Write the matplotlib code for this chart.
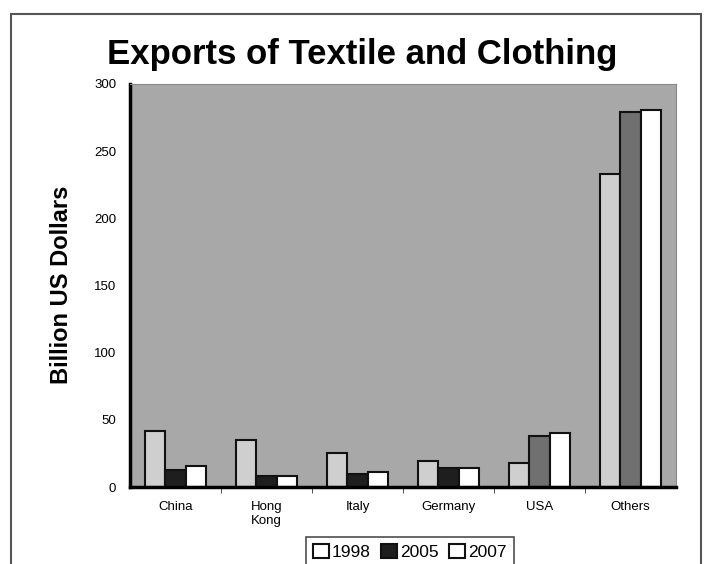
import numpy as np
import matplotlib
matplotlib.use('Agg')
from matplotlib import pyplot as plt
from matplotlib.patches import Rectangle

categories = ['China', 'Hong\nKong', 'Italy', 'Germany', 'USA', 'Others']
years = ['1998', '2005', '2007']
exports_1998 = [42, 35, 25, 19, 18, 233]
exports_2005 = [13, 8, 10, 14, 38, 279]
exports_2007 = [16, 8, 11, 14, 40, 281]

plt.rcParams['font.family'] = ['Liberation Sans', 'DejaVu Sans']

fig = plt.figure(dpi=100, figsize=(7.06, 5.64))
ax = fig.add_axes([130 / 706, 1 - 487 / 564, 546 / 706, 403 / 564])
ax.set_facecolor('#a8a8a8')

# outer chart border
fig.patches.append(Rectangle((11 / 706, -0.05), 690 / 706, 1.05 - 14 / 564,
                             transform=fig.transFigure, fill=False,
                             edgecolor='#555555', linewidth=1.5))

x = np.arange(len(categories))
w = 0.22
col_2005 = ['#1e1e1e', '#1e1e1e', '#1e1e1e', '#1e1e1e', '#707070', '#707070']
ax.bar(x - w, exports_1998, w, color='#cfcfcf', edgecolor='#111111', linewidth=1.5, label=years[0])
ax.bar(x, exports_2005, w, color=col_2005, edgecolor='#111111', linewidth=1.5, label=years[1])
ax.bar(x + w, exports_2007, w, color='white', edgecolor='#111111', linewidth=1.5, label=years[2])

ax.set_xlim(-0.5, len(categories) - 0.5)
ax.set_ylim(0, 300)
ax.set_yticks(range(0, 301, 50))
ax.set_xticks(x)
ax.set_xticklabels(categories, fontsize=9.5)
ax.set_xticks(np.arange(0.5, len(categories) - 0.5, 1), minor=True)
ax.tick_params(axis='x', which='major', length=0, pad=10)
ax.tick_params(axis='x', which='minor', length=4, color='#333333')
ax.tick_params(axis='y', length=0, labelsize=9.5, pad=10)

for side in ['top', 'right']:
    ax.spines[side].set_color('#888888')
ax.spines['left'].set_linewidth(2.5)
ax.spines['bottom'].set_linewidth(2.5)

fig.text(362 / 706, 1 - 55 / 564, 'Exports of Textile and Clothing',
         ha='center', va='center', fontsize=25, fontweight='bold')
fig.text(61 / 706, 1 - 285 / 564, 'Billion US Dollars', rotation=90,
         ha='center', va='center', fontsize=17, fontweight='bold')

leg = fig.legend(loc='upper center', bbox_to_anchor=(410 / 706, 1 - 528 / 564),
                 ncol=3, fontsize=12.5, frameon=True, fancybox=False,
                 handlelength=0.9, handleheight=0.9, handletextpad=0.2,
                 columnspacing=0.6, borderpad=0.4)
leg.get_frame().set_edgecolor('#222222')
leg.get_frame().set_linewidth(1.2)
leg.legend_handles[0].set_facecolor('white')

plt.savefig('out.png', dpi=100)
